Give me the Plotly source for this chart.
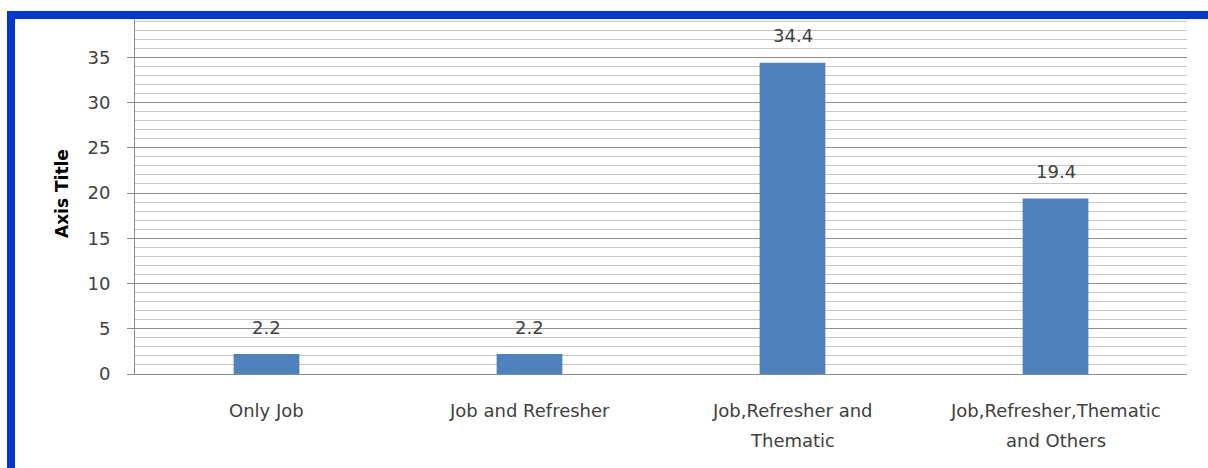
import plotly.graph_objects as go

# Chart data
categories = ["Only Job", "Job and Refresher", "Job,Refresher and Thematic",
              "Job,Refresher,Thematic and Others"]
values = [2.2, 2.2, 34.4, 19.4]
label_lines = [["Only Job"], ["Job and Refresher"],
               ["Job,Refresher and", "Thematic"],
               ["Job,Refresher,Thematic", "and Others"]]
y_ticks = [0, 5, 10, 15, 20, 25, 30, 35, 40]

W, H = 1208, 468
L, R, T, B = 135, 21, 12, 94
PW, PH = W - L - R, H - T - B

FONT = "DejaVu Sans"
TXT = "#404040"
BAR = "#4F81BD"
FS = 18


def px_x(p):
    return (p - L) / PW


def px_y(p):
    return (H - B - p) / PH


fig = go.Figure(go.Bar(
    x=categories, y=values, width=0.25,
    marker=dict(color=BAR, line=dict(width=0)),
    hoverinfo="skip",
))

annotations = []
# value labels above bars
for c, v in zip(categories, values):
    annotations.append(dict(
        x=c, y=v, xref="x", yref="y", text=f"{v:.1f}", showarrow=False,
        yshift=27, font=dict(family=FONT, size=FS, color=TXT),
    ))
# category labels (two-line with wide spacing)
for c, lines in zip(categories, label_lines):
    for i, ln in enumerate(lines):
        annotations.append(dict(
            x=c, y=px_y(410 + 30 * i), xref="x", yref="paper", text=ln,
            showarrow=False, yanchor="middle",
            font=dict(family=FONT, size=FS, color=TXT),
        ))
# y axis title
annotations.append(dict(
    x=px_x(62), y=px_y(194), xref="paper", yref="paper",
    text="<b>Axis Title</b>",
    textangle=-90, showarrow=False, xanchor="center", yanchor="middle",
    font=dict(family=FONT, size=17, color="#000000"),
))

shapes = [
    # white strip above the frame
    dict(type="rect", xref="paper", yref="paper", layer="above",
         x0=px_x(0), x1=px_x(W), y0=px_y(11), y1=px_y(0),
         fillcolor="white", line=dict(width=0)),
    # blue frame: top and left
    dict(type="rect", xref="paper", yref="paper", layer="above",
         x0=px_x(7), x1=px_x(W), y0=px_y(19), y1=px_y(11),
         fillcolor="#0038C8", line=dict(width=0)),
    dict(type="rect", xref="paper", yref="paper", layer="above",
         x0=px_x(7), x1=px_x(15), y0=px_y(H), y1=px_y(11),
         fillcolor="#0038C8", line=dict(width=0)),
]

fig.update_layout(
    width=W, height=H,
    margin=dict(l=L, r=R, t=T, b=B, autoexpand=False),
    paper_bgcolor="white", plot_bgcolor="white",
    showlegend=False, bargap=0.75,
    annotations=annotations, shapes=shapes,
    xaxis=dict(
        showticklabels=False, showgrid=False, ticks="",
        showline=True, linecolor="#8c8c8c", linewidth=1,
        range=[-0.5, 3.5], fixedrange=True,
    ),
    yaxis=dict(
        range=[0, 40], tickvals=y_ticks, ticktext=[str(t) for t in y_ticks],
        showgrid=True, gridcolor="#8e8e8e", gridwidth=1,
        minor=dict(dtick=1, showgrid=True, gridcolor="#c8c8c8", gridwidth=1),
        zeroline=False,
        showline=True, linecolor="#8c8c8c", linewidth=1,
        ticks="outside", ticklen=7, tickcolor="#8c8c8c", tickwidth=1,
        ticklabelstandoff=13,
        tickfont=dict(family=FONT, size=FS, color=TXT),
        fixedrange=True,
    ),
)

fig.write_html("out.html")
